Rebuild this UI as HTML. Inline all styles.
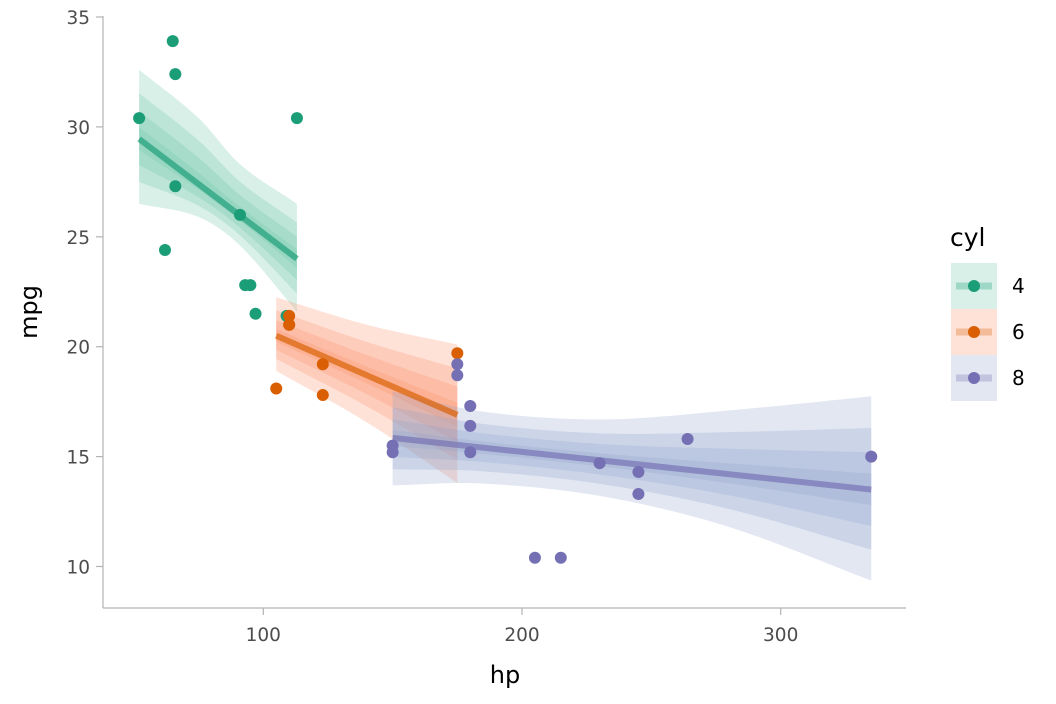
<!DOCTYPE html>
<html><head><meta charset="utf-8">
<style>
body{margin:0;background:#fff;}
svg{display:block;font-family:"DejaVu Sans","Liberation Sans",sans-serif;}
</style></head>
<body>
<svg id="chart" width="1056" height="704" viewBox="0 0 1056 704" xmlns="http://www.w3.org/2000/svg">
<g id="ribbons"></g>
<g id="lines"></g>
<g id="points"></g>
<g id="axes">
<line x1="103" y1="16" x2="103" y2="608" stroke="#b3b3b3" stroke-width="1.2"/>
<line x1="103" y1="608" x2="906" y2="608" stroke="#b3b3b3" stroke-width="1.2"/>
</g>
<text x="505" y="683" font-size="24" text-anchor="middle" fill="#000">hp</text>
<text transform="translate(37,312) rotate(-90)" font-size="24" text-anchor="middle" fill="#000">mpg</text>
<g id="legend">
<text x="950" y="246" font-size="25" fill="#000">cyl</text>
</g>
</svg>
<script>
const groups = ['4','6','8'];
const hp4 = [93,62,95,66,52,65,97,66,91,113,109];
const mpg4 = [22.8,24.4,22.8,32.4,30.4,33.9,21.5,27.3,26.0,30.4,21.4];
const hp6 = [110,110,110,105,123,123,175];
const mpg6 = [21,21,21.4,18.1,19.2,17.8,19.7];
const hp8 = [175,245,180,180,180,205,215,230,150,150,245,175,264,335];
const mpg8 = [18.7,14.3,16.4,17.3,15.2,10.4,10.4,14.7,15.5,15.2,13.3,19.2,15.8,15.0];
// fit line endpoints [hpStart, mpgStart, hpEnd, mpgEnd]
const fit4 = [52,29.45,113,24.0];
const fit6 = [105,20.5,175,16.9];
const fit8 = [150,15.85,335,13.5];
// outer band upper / lower mpg at sampled hp
const bandHp4 = [52,75,91,113];
const bandUp4 = [32.6,30.4,28.3,26.5];
const bandLo4 = [26.5,25.9,24.6,21.6];
const bandHp6 = [105,140,175];
const bandUp6 = [22.25,21.0,20.1];
const bandLo6 = [18.9,16.56,13.8];
const bandHp8 = [150,184,231,280,335];
const bandUp8 = [17.97,17.06,16.69,17.1,17.74];
const bandLo8 = [13.69,13.78,13.19,11.8,9.36];
const levelScale = [1,0.66,0.4,0.17];
const xTicks = [100,200,300];
const yTicks = [10,15,20,25,30,35];

const NS='http://www.w3.org/2000/svg';
const xs = v => 263.3 + (v-100)*2.587;
const ys = v => 566.5 - (v-10)*21.98;
const ptCol = {'4':'#1b9e77','6':'#d95f02','8':'#7570b3'};
const ribCol = {'4':'#66c2a5','6':'#fc8d62','8':'#8da0cb'};
const D = {'4':[hp4,mpg4,fit4,bandHp4,bandUp4,bandLo4],'6':[hp6,mpg6,fit6,bandHp6,bandUp6,bandLo6],'8':[hp8,mpg8,fit8,bandHp8,bandUp8,bandLo8]};
function mk(t,a,p){const e=document.createElementNS(NS,t);for(const k in a)e.setAttribute(k,a[k]);p.appendChild(e);return e;}
const axes=document.getElementById('axes');
xTicks.forEach(t=>{
  const l=mk('line',{x1:xs(t),x2:xs(t),y1:608,y2:615,stroke:'#b3b3b3','stroke-width':1.2},axes);
  
  
  const tx=mk('text',{x:xs(t),y:641,'font-size':18.5,'text-anchor':'middle',fill:'#4d4d4d'},axes);
  tx.textContent=t;
  
  
});
yTicks.forEach(t=>{
  const l=mk('line',{x1:96,x2:103,y1:ys(t),y2:ys(t),stroke:'#b3b3b3','stroke-width':1.2},axes);
  
  
  const tx=mk('text',{x:90,y:ys(t)+7,'font-size':18.5,'text-anchor':'end',fill:'#4d4d4d'},axes);
  tx.textContent=t;
  
  
});
const rib=document.getElementById('ribbons'), lin=document.getElementById('lines'), pts=document.getElementById('points');
function smooth(bh,bv,x){
  const n=bh.length;
  let i=0; while(i<n-2 && x>bh[i+1]) i++;
  const x0=bh[i],x1=bh[i+1],t=(x-x0)/(x1-x0);
  const slope=k=>{ if(k<=0) return (bv[1]-bv[0])/(bh[1]-bh[0]); if(k>=n-1) return (bv[n-1]-bv[n-2])/(bh[n-1]-bh[n-2]); return (bv[k+1]-bv[k-1])/(bh[k+1]-bh[k-1]); };
  const h=x1-x0, m0=slope(i)*h, m1=slope(i+1)*h;
  const t2=t*t,t3=t2*t;
  return (2*t3-3*t2+1)*bv[i]+(t3-2*t2+t)*m0+(-2*t3+3*t2)*bv[i+1]+(t3-t2)*m1;
}
groups.forEach(g=>{
  const [hx,my,fit,bh,bu,bl]=D[g];
  const center=x=>fit[1]+(x-fit[0])*(fit[3]-fit[1])/(fit[2]-fit[0]);
  const N=60, samples=[];
  for(let i=0;i<=N;i++)samples.push(fit[0]+(fit[2]-fit[0])*i/N);
  levelScale.forEach(s=>{
    const up=samples.map(x=>{const c=center(x);return xs(x)+','+ys(c+s*(smooth(bh,bu,x)-c));});
    const lo=samples.slice().reverse().map(x=>{const c=center(x);return xs(x)+','+ys(c-s*(c-smooth(bh,bl,x)));});
    const p=mk('polygon',{points:up.concat(lo).join(' '),fill:ribCol[g],'fill-opacity':0.25},rib);
    
    
  });
  const l=mk('line',{x1:xs(fit[0]),y1:ys(fit[1]),x2:xs(fit[2]),y2:ys(fit[3]),stroke:ptCol[g],'stroke-opacity':0.68,'stroke-width':6},lin);
  
  
  hx.forEach((h,i)=>{
    const c=mk('circle',{cx:xs(h),cy:ys(my[i]),r:6,fill:ptCol[g]},pts);
    
    
  });
});
const leg=document.getElementById('legend');
groups.forEach((g,i)=>{
  const y0=263+i*46;
  const r=mk('rect',{x:951,y:y0,width:46,height:46,fill:ribCol[g],'fill-opacity':0.25},leg);
  
  
  const l=mk('line',{x1:956,x2:992,y1:y0+23,y2:y0+23,stroke:ptCol[g],'stroke-opacity':0.3,'stroke-width':7},leg);
  
  
  const c=mk('circle',{cx:974,cy:y0+23,r:6,fill:ptCol[g]},leg);
  
  
  const t=mk('text',{x:1012,y:y0+30,'font-size':20,fill:'#000'},leg);
  t.textContent=g;
  
  
});
</script>
</body></html>
